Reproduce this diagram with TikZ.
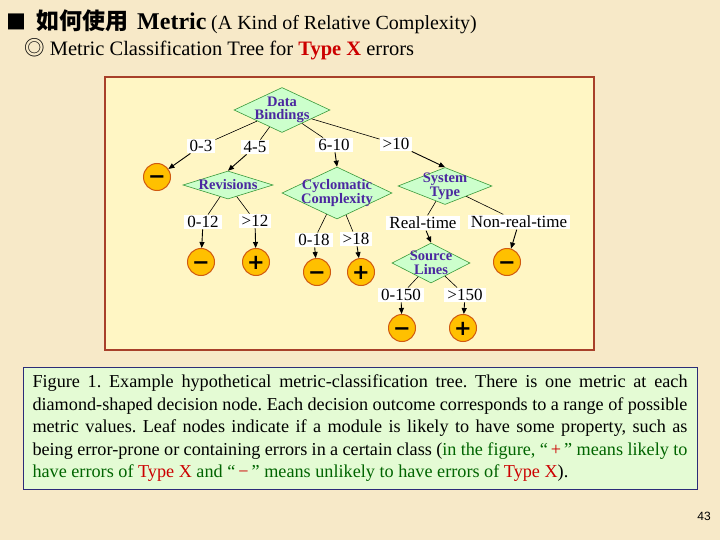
\documentclass[tikz,border=0pt]{standalone}
\usepackage{fontspec}
\setmainfont{Liberation Serif}
\newfontfamily\cjk{Noto Sans CJK TC}
\newfontfamily\signfont{DejaVu Sans}
\newfontfamily\pagefont{Liberation Sans}
\usetikzlibrary{arrows.meta,shapes.geometric}
\definecolor{PaperBg}{HTML}{F7E9C8}
\definecolor{TreeBg}{HTML}{FFF6C4}
\definecolor{TreeLine}{HTML}{A8402A}
\definecolor{DecBg}{HTML}{CCFFCC}
\definecolor{DecLine}{HTML}{3A9A3A}
\definecolor{DecInk}{HTML}{4B28A0}
\definecolor{LeafBg}{HTML}{FFC000}
\definecolor{LeafLine}{HTML}{D05A10}
\definecolor{CapBg}{HTML}{E4FBD4}
\definecolor{CapLine}{HTML}{2C2C78}
\definecolor{CapGreen}{HTML}{006400}
\definecolor{TypeRed}{HTML}{CC0000}
\frenchspacing

\begin{document}
\begin{tikzpicture}[x=1pt,y=-1pt,
  dec/.style={diamond,draw=DecLine,fill=DecBg,line width=0.6pt,inner sep=-16pt,
    align=center,text=DecInk,font=\bfseries\fontsize{14.5}{13.5}\selectfont},
  lab/.style={fill=white,inner xsep=3pt,inner ysep=1.5pt,font=\fontsize{17}{17}\selectfont},
  leaf/.style={circle,draw=LeafLine,fill=LeafBg,line width=1pt,minimum size=27pt,inner sep=0pt,
    text height=14pt,text depth=0pt,font=\signfont\bfseries\fontsize{21}{21}\selectfont},
  ln/.style={line width=0.6pt},
  ar/.style={-{Triangle[length=6pt,width=5pt]},line width=0.9pt}]
  \fill[PaperBg] (0,0) rectangle (720,540);
  \useasboundingbox (0,0) rectangle (720,540);
  % heading
  \node[anchor=base west,inner sep=0pt,font=\cjk\fontsize{20}{20}\selectfont] (sq) at (6,30) {■};
  \node[anchor=base west,inner sep=0pt,font=\cjk\bfseries\fontsize{23}{23}\selectfont] (zh) at (36,30) {如何使用};
  \node[anchor=base west,inner sep=0pt,font=\bfseries\fontsize{24}{24}\selectfont] (met) at (137,30) {Metric};
  \node[anchor=base west,inner sep=0pt,font=\fontsize{20}{20}\selectfont] (kind) at (211,30) {(A Kind of Relative Complexity)};
  \node[anchor=base west,inner sep=0pt,font=\fontsize{20.5}{20.5}\selectfont] (sub) at (24,56)
    {{\cjk ◎} Metric Classification Tree for {\bfseries\color{TypeRed}Type X} errors};
  % tree panel
  \draw[TreeLine,fill=TreeBg,line width=1.2pt] (105,77) rectangle (594,350);
  \node[dec,minimum width=96pt,minimum height=45pt] (bind) at (282,110) {Data\\Bindings};
  \node[lab] (b03) at (201,146) {0-3};
  \node[lab] (b45) at (255,147) {4-5};
  \node[lab] (b610) at (334,145) {6-10};
  \node[lab] (b10) at (396,144) {>10};
  \node[leaf] (m1) at (157,177) {−};
  \node[dec,minimum width=90pt,minimum height=28pt] (rev) at (228,185) {Revisions};
  \node[dec,minimum width=110pt,minimum height=52pt] (cyc) at (337,193) {Cyclomatic\\Complexity};
  \node[dec,minimum width=94pt,minimum height=37pt,font=\bfseries\fontsize{14.5}{11.5}\selectfont] (sys) at (445,186) {System\\Type};
  \node[lab] (r012) at (203,222) {0-12};
  \node[lab] (r12) at (255,221) {>12};
  \node[lab] (c018) at (314,240) {0-18};
  \node[lab] (c18) at (356,239) {>18};
  \node[lab] (sreal) at (423,223) {Real-time};
  \node[lab] (snon) at (519,222) {Non-real-time};
  \node[dec,minimum width=78pt,minimum height=40pt] (src) at (431,263) {Source\\Lines};
  \node[lab] (l0150) at (401,295) {0-150};
  \node[lab] (l150) at (465,295) {>150};
  \node[leaf] (m2) at (201,262) {−};
  \node[leaf] (p1) at (256,262) {+};
  \node[leaf] (m3) at (317,272) {−};
  \node[leaf] (p2) at (361,272) {+};
  \node[leaf] (m4) at (507,262) {−};
  \node[leaf] (m5) at (402,328) {−};
  \node[leaf] (p3) at (463,328) {+};
  % outcomes
  \draw[ln] (bind) -- (b03);  \draw[ar] (b03) -- (m1);
  \draw[ln] (bind) -- (b45);  \draw[ar] (b45) -- (rev.north);
  \draw[ln] (bind) -- (b610); \draw[ar] (b610) -- (cyc.north);
  \draw[ln] (bind) -- (b10);  \draw[ar] (b10) -- (sys.north);
  \draw[ln] (rev) -- (r012);  \draw[ar] (r012) -- (m2);
  \draw[ln] (rev) -- (r12);   \draw[ar] (r12) -- (p1);
  \draw[ln] (cyc) -- (c018);  \draw[ar] (c018) -- (m3);
  \draw[ln] (cyc) -- (c18);   \draw[ar] (c18) -- (p2);
  \draw[ln] (sys) -- (sreal); \draw[ar] (sreal) -- (src.north);
  \draw[ln] (sys) -- (snon);  \draw[ar] (snon) -- (m4);
  \draw[ln] (src) -- (l0150); \draw[ar] (l0150) -- (m5);
  \draw[ln] (src) -- (l150);  \draw[ar] (l150) -- (p3);
  % caption
  \node[draw=CapLine,fill=CapBg,line width=1pt,text width=655pt,inner xsep=9.5pt,minimum height=122pt,
    align=justify,font=\fontsize{18.2}{22.5}\selectfont] (cap) at (360,428.5)
    {Figure 1. Example hypothetical metric-classification tree. There is one metric at each\linebreak
     diamond-shaped decision node. Each decision outcome corresponds to a range of possible\linebreak
     metric values. Leaf nodes indicate if a module is likely to have some property, such as\linebreak
     being error-prone or containing errors in a certain class ({\color{CapGreen}in the figure,
     ``{\color{TypeRed}\,+\,}'' means likely to\linebreak have errors of {\color{TypeRed}Type X}
     and ``{\color{TypeRed}\,−\,}'' means unlikely to have errors of {\color{TypeRed}Type X}}).};
  \node[font=\pagefont\fontsize{12}{12}\selectfont] (page) at (704,516) {43};
\end{tikzpicture}
\end{document}
